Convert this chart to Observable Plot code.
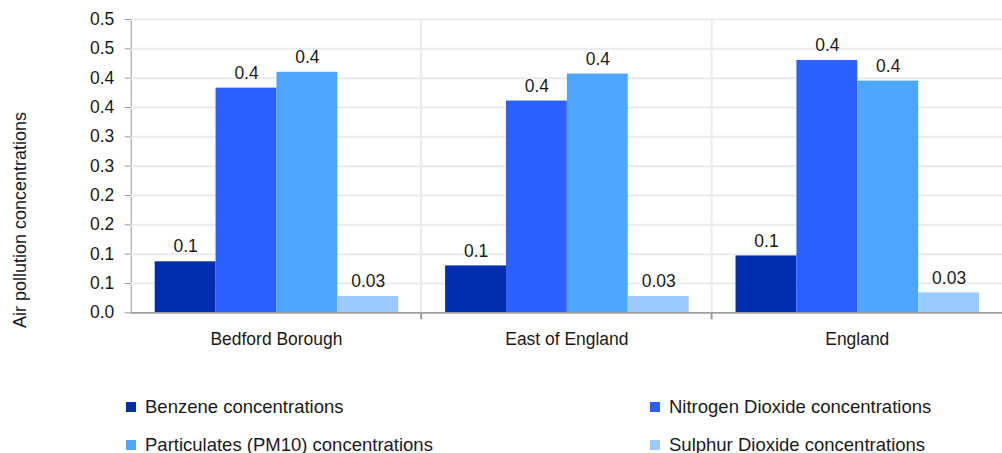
<!DOCTYPE html>
<html><head><meta charset="utf-8">
<script src="https://cdn.jsdelivr.net/npm/d3@7"></script>
<script src="https://cdn.jsdelivr.net/npm/@observablehq/plot@0.6"></script>
<style>
body{margin:0;width:1002px;height:453px;overflow:hidden;background:#fff;font-family:"Liberation Sans",Arial,sans-serif;position:relative}
#chart svg text{fill:#1a1a1a}
.ytitle{position:absolute;left:20px;top:220px;transform:translate(-50%,-50%) rotate(-90deg);font-size:18px;white-space:nowrap;color:#1a1a1a}
#legend{position:absolute;left:126px;top:388px;display:grid;grid-template-columns:524px 350px;grid-auto-rows:38px}
.item{display:flex;align-items:center;font-size:18.5px;white-space:nowrap;color:#1a1a1a}
.sw{width:10px;height:10px;margin-right:9px;flex:none}
</style></head><body>
<div id="chart"></div>
<div class="ytitle">Air pollution concentrations</div>
<div id="legend"></div>
<script>
const areas = ["Bedford Borough", "East of England", "England"];
const series = ["Benzene concentrations", "Nitrogen Dioxide concentrations", "Particulates (PM10) concentrations", "Sulphur Dioxide concentrations"];
const benzene = [0.087, 0.080, 0.097];
const nitrogenDioxide = [0.383, 0.361, 0.430];
const particulatesPM10 = [0.410, 0.407, 0.395];
const sulphurDioxide = [0.028, 0.028, 0.034];
const labelDecimals = [1, 1, 1, 2];
const yTicks = [0, 0.05, 0.1, 0.15, 0.2, 0.25, 0.3, 0.35, 0.4, 0.45, 0.5];
const yTickLabels = ["0.0", "0.1", "0.1", "0.2", "0.2", "0.3", "0.3", "0.4", "0.4", "0.5", "0.5"];
const colors = ["#002cb0", "#2a60ff", "#4da6ff", "#9cc9ff"];

const seriesValues = [benzene, nitrogenDioxide, particulatesPM10, sulphurDioxide];
const data = areas.flatMap((a, i) => seriesValues.map((arr, j) => ({
  area: a, series: series[j], value: arr[i], label: arr[i].toFixed(labelDecimals[j])
})));

const marginLeft = 131, marginTop = 19, marginBottom = 47, H = 360;
const plot = Plot.plot({
  width: 1004, height: H, marginLeft, marginRight: 0, marginTop, marginBottom,
  style: {fontFamily: "Liberation Sans, Arial, sans-serif", fontSize: "17.5px", color: "#999", background: "transparent", overflow: "visible"},
  fx: {domain: areas, padding: 0, label: null, tickSize: 0, tickPadding: 20, axis: "bottom"},
  x: {domain: series, axis: null, paddingInner: 0, paddingOuter: 0.35},
  y: {domain: [0, 0.5], ticks: yTicks, tickFormat: d => yTickLabels[yTicks.indexOf(d)], tickSize: 6, tickPadding: 11, label: null, line: true},
  color: {domain: series, range: colors},
  marks: [
    Plot.ruleY(yTicks.slice(1), {stroke: "#ebebeb", strokeWidth: 2}),
    Plot.barY(data, {fx: "area", x: "series", y: "value", fill: "series"}),
    Plot.text(data, {fx: "area", x: "series", y: "value", text: "label", dy: -15, fill: "#1a1a1a", fontSize: 17.5}),
    Plot.ruleY([0], {stroke: "#a0a0a0", strokeWidth: 2})
  ]
});
document.getElementById("chart").appendChild(plot);

// group separators derived from the fx scale
const fx = plot.scale("fx");
const y = plot.scale("y");
const svg = d3.select(plot.tagName.toLowerCase() === "svg" ? plot : plot.querySelector("svg"));
const g = svg.insert("g", "g");
areas.slice(1).forEach(a => {
  const xp = fx.apply(a);
  g.append("line").attr("x1", xp).attr("x2", xp).attr("y1", y.apply(0.5)).attr("y2", y.apply(0)).attr("stroke", "#ebebeb").attr("stroke-width", 2);
  svg.append("line").attr("x1", xp).attr("x2", xp).attr("y1", y.apply(0)).attr("y2", y.apply(0) + 7).attr("stroke", "#999").attr("stroke-width", 2);
});

const legend = d3.select("#legend");
series.forEach((s, i) => {
  const it = legend.append("div").attr("class", "item");
  it.append("div").attr("class", "sw").style("background", colors[i]);
  it.append("span").text(s);
});
</script>
</body></html>
